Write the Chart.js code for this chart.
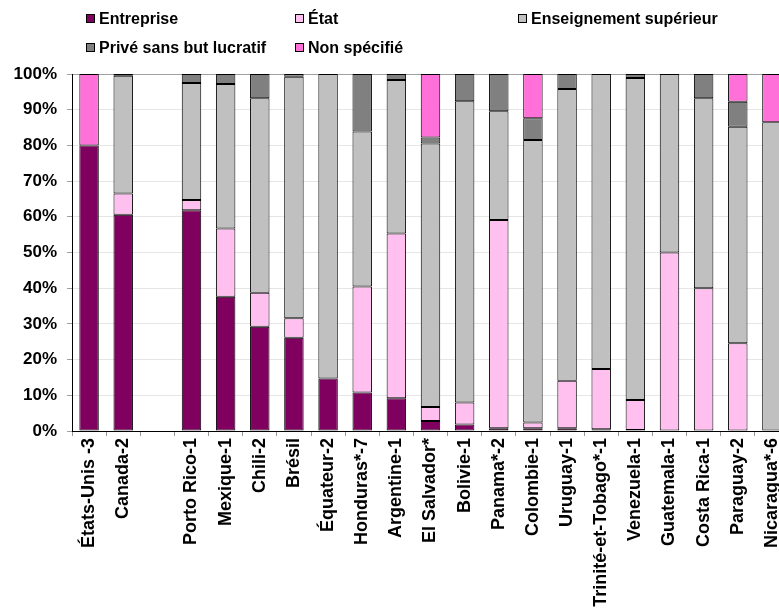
<!DOCTYPE html>
<html>
<head>
<meta charset="utf-8">
<script src="https://cdn.jsdelivr.net/npm/chart.js@4/dist/chart.umd.min.js"></script>
<style>
  html, body { margin: 0; padding: 0; overflow: hidden; background: #fff; }
  #wrap { position: relative; width: 789px; height: 615px; }
  #legend { position: absolute; left: 0; top: 0; font: bold 16px "Liberation Sans", Arial, sans-serif; color: #000; }
  .item { position: absolute; white-space: nowrap; line-height: 18px; }
  .box { display: inline-block; width: 7px; height: 7px; border: 1px solid #000; margin-right: 4px; vertical-align: 1px; }
</style>
</head>
<body>
<div id="wrap">
  <canvas id="c" width="789" height="615"></canvas>
  <div id="legend"></div>
</div>
<script>
const countries = ['États-Unis -3', 'Canada-2', '', 'Porto Rico-1', 'Mexique-1', 'Chili-2', 'Brésil',
  'Équateur-2', 'Honduras*-7', 'Argentine-1', 'El Salvador*', 'Bolivie-1', 'Panama*-2', 'Colombie-1',
  'Uruguay-1', 'Trinité-et-Tobago*-1', 'Venezuela-1', 'Guatemala-1', 'Costa Rica-1', 'Paraguay-2', 'Nicaragua*-6'];

// shares in % (blank slot = null)
const entreprise    = [80, 60.6, null, 61.8, 37.6, 29.2, 26.1, 14.7, 10.8, 9.2, 2.8, 1.8, 0.8, 0.8, 0.8, 0.5, 0.3, 0, 0, 0, 0];
const etat          = [0, 5.9, null, 2.9, 19.1, 9.5, 5.5, 0, 29.7, 46.1, 3.9, 6.2, 58.3, 1.6, 13.3, 16.9, 8.4, 50, 40, 24.6, 0];
const enseignement  = [0, 33, null, 32.8, 40.5, 54.5, 67.6, 85.3, 43.4, 43, 73.8, 84.4, 30.5, 79.1, 81.7, 82.6, 90.2, 50, 53.2, 60.6, 86.5];
const prive         = [0, 0.5, null, 2.5, 2.8, 6.8, 0.8, 0, 16.1, 1.7, 1.7, 7.6, 10.4, 6.1, 4.2, 0, 1.1, 0, 6.8, 7, 0];
const nonSpecifie   = [20, 0, null, 0, 0, 0, 0, 0, 0, 0, 17.8, 0, 0, 12.4, 0, 0, 0, 0, 0, 7.8, 13.5];

const seriesNames  = ['Entreprise', 'État', 'Enseignement supérieur', 'Privé sans but lucratif', 'Non spécifié'];
const seriesData   = [entreprise, etat, enseignement, prive, nonSpecifie];
const seriesColors = ['#800060', '#FFC0F0', '#C0C0C0', '#808080', '#FF70D8'];

// legend laid out like the original (3 columns, 2 rows)
const legendPos = [[86, 10], [295, 10], [518, 10], [86, 39], [295, 39]];
const legend = document.getElementById('legend');
seriesNames.forEach((name, i) => {
  const d = document.createElement('div');
  d.className = 'item';
  d.style.left = legendPos[i][0] + 'px';
  d.style.top = legendPos[i][1] + 'px';
  d.innerHTML = '<span class="box" style="background:' + seriesColors[i] + '"></span>' + name;
  legend.appendChild(d);
});

const font = { family: '"Liberation Sans", Arial, sans-serif', weight: 'bold' };

new Chart(document.getElementById('c'), {
  type: 'bar',
  data: {
    labels: countries,
    datasets: seriesNames.map((name, i) => ({
      label: name,
      data: seriesData[i].map(v => (v ? v : null)),
      backgroundColor: seriesColors[i],
      borderColor: '#000',
      borderWidth: 1,
      borderSkipped: false,
      categoryPercentage: 1,
      barPercentage: 0.57,
    })),
  },
  options: {
    responsive: false,
    animation: false,
    layout: { padding: { top: 74, left: 0, right: 0, bottom: 0 } },
    plugins: { legend: { display: false }, tooltip: { enabled: false } },
    scales: {
      x: {
        stacked: true,
        grid: { drawOnChartArea: false, drawTicks: true, tickLength: 5, color: '#999', offset: true },
        border: { color: '#000', width: 1 },
        ticks: {
          autoSkip: false, minRotation: 90, maxRotation: 90, padding: 2,
          color: '#000', font: { ...font, size: 18 },
        },
        afterFit: s => { s.height = 184; s.paddingLeft = 0; s.paddingRight = 0; },
      },
      y: {
        stacked: true,
        min: 0, max: 100,
        ticks: { stepSize: 10, callback: v => v + '%', color: '#000', padding: 10, font: { ...font, size: 17 } },
        grid: {
          color: ctx => (ctx.tick && ctx.tick.value === 100 ? '#a0a0a0' : '#e6e6e6'),
          tickColor: '#a0a0a0', tickLength: 5,
        },
        border: { color: '#000', width: 1 },
        afterFit: s => { s.width = 72; },
      },
    },
  },
});
</script>
</body>
</html>
